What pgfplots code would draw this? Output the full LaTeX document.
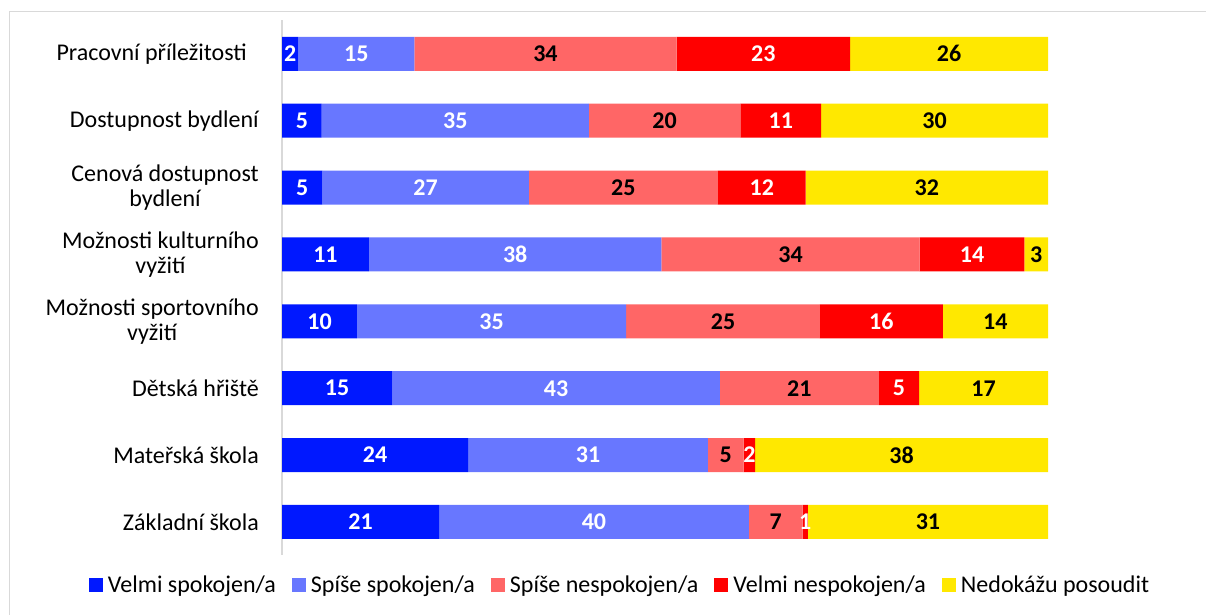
\documentclass[border=0pt]{standalone}
\usepackage{fontspec}
\setmainfont{Carlito}
\usepackage{pgfplots}
\usepackage{pgfplotstable}
\pgfplotsset{compat=1.18}
\definecolor{c1}{HTML}{0018FF}
\definecolor{c2}{HTML}{6877FF}
\definecolor{c3}{HTML}{FF6666}
\definecolor{c4}{HTML}{FF0000}
\definecolor{c5}{HTML}{FFE800}
\pgfplotsset{sqlegend/.style={legend image code/.code={\fill[##1] (0pt,-7pt) rectangle (14pt,7pt);}}}
% y: category index (0 = top), v: bar length (share of 100), l: printed label
\pgfplotstableread{
y v l
0 2.13 2
1 5.18 5
2 5.26 5
3 11.35 11
4 9.79 10
5 14.40 15
6 24.30 24
7 20.50 21
}\tA
\pgfplotstableread{
y v l
0 15.14 15
1 34.88 35
2 26.97 27
3 38.19 38
4 35.15 35
5 42.76 43
6 31.30 31
7 40.45 40
}\tB
\pgfplotstableread{
y v l
0 34.24 34
1 19.79 20
2 24.66 25
3 33.71 34
4 25.27 25
5 20.75 21
6 4.66 5
7 7.00 7
}\tC
\pgfplotstableread{
y v l
0 22.65 23
1 10.52 11
2 11.48 12
3 13.66 14
4 16.05 16
5 5.26 5
6 1.52 2
7 0.70 1
}\tD
\pgfplotstableread{
y v l
0 25.84 26
1 29.63 30
2 31.63 32
3 3.09 3
4 13.74 14
5 16.83 17
6 38.22 38
7 31.35 31
}\tE
\begin{document}
\begin{tikzpicture}[x=1pt,y=1pt]
\useasboundingbox (0,0) rectangle (1206,615);
\draw[black!15, line width=1pt] (9,-5) -- (9,603) -- (1215,603);
\begin{axis}[
  at={(282pt,59.6pt)}, anchor=south west,
  scale only axis, width=766pt, height=535pt,
  xbar stacked, bar width=34pt,
  xmin=0, xmax=100, ymin=-0.5, ymax=7.5, y dir=reverse,
  axis x line=none, axis y line*=left,
  y axis line style={draw=black!15, line width=1.2pt, -},
  ytick={0,...,7},
  yticklabels={Pracovní příležitosti\hspace{12pt}, Dostupnost bydlení, {Cenová dostupnost\\bydlení}, {Možnosti kulturního\\vyžití}, {Možnosti sportovního\\vyžití}, Dětská hřiště, Mateřská škola, Základní škola},
  major tick length=0pt,
  yticklabel style={font=\fontsize{24}{25}\selectfont, align=center, inner sep=0pt, xshift=-23pt},
  point meta=explicit,
  /pgf/number format/assume math mode=true,
  nodes near coords={\pgfmathprintnumber{\pgfplotspointmeta}},
  every node near coord/.append style={font=\bfseries\fontsize{24}{28}\selectfont},
  legend style={at={(0.44,-0.0544)}, anchor=center, legend columns=-1, draw=none,
    font=\fontsize{24}{28}\selectfont, inner sep=0pt,
    nodes={inner sep=0pt},
    /tikz/every odd column/.append style={column sep=5pt},
    /tikz/every even column/.append style={column sep=16pt}},
]
\addplot[fill=c1, draw=none, sqlegend, every node near coord/.append style={text=white}] table[x=v, y=y, meta=l] {\tA};
\addlegendentry{Velmi spokojen/a}
\addplot[fill=c2, draw=none, sqlegend, every node near coord/.append style={text=white}] table[x=v, y=y, meta=l] {\tB};
\addlegendentry{Spíše spokojen/a}
\addplot[fill=c3, draw=none, sqlegend, every node near coord/.append style={text=black}] table[x=v, y=y, meta=l] {\tC};
\addlegendentry{Spíše nespokojen/a}
\addplot[fill=c4, draw=none, sqlegend, every node near coord/.append style={text=white}] table[x=v, y=y, meta=l] {\tD};
\addlegendentry{Velmi nespokojen/a}
\addplot[fill=c5, draw=none, sqlegend, every node near coord/.append style={text=black}] table[x=v, y=y, meta=l] {\tE};
\addlegendentry{Nedokážu posoudit}
\end{axis}
\end{tikzpicture}
\end{document}
